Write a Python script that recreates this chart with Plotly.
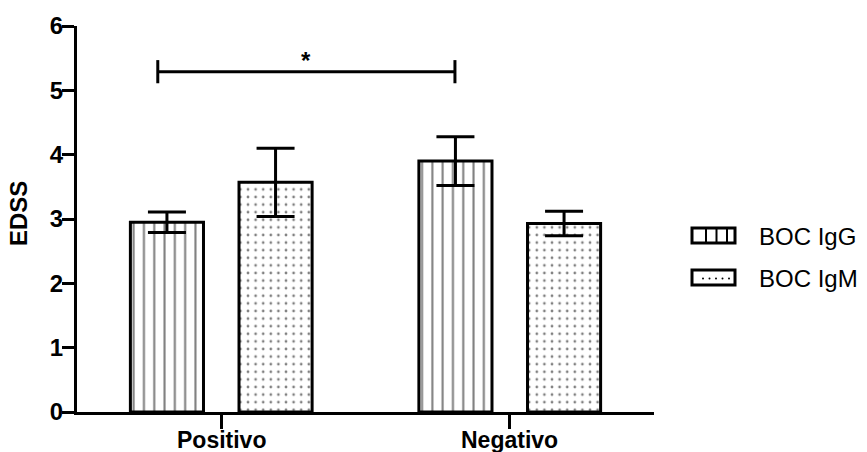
import plotly.graph_objects as go

# Data: EDSS mean and SEM per BOC status
categories = ["Positivo", "Negativo"]
series_names = ["BOC IgG", "BOC IgM"]
igg_mean = [2.95, 3.90]
igg_sem = [0.16, 0.38]
igm_mean = [3.57, 2.93]
igm_sem = [0.53, 0.19]
y_ticks = [0, 1, 2, 3, 4, 5, 6]
sig_label = "*"
sig_level = 5.29
sig_span = [-0.22, 0.81]

W, H = 867, 452
ML, MR, MT, MB = 77, 213, 26, 40
PW, PH = W - ML - MR, H - MT - MB

FONT = "Liberation Sans, Arial, sans-serif"


def px_x(px):
    return (px - ML) / PW


def px_y(py):
    return (H - MB - py) / PH


fig = go.Figure()

fig.add_trace(go.Bar(
    x=categories, y=igg_mean, name=series_names[0],
    error_y=dict(type="data", array=igg_sem, color="black", thickness=3, width=19),
    marker=dict(color="white", line=dict(color="black", width=3),
                pattern=dict(shape="|", size=10.3, solidity=0.2,
                             fgcolor="black", bgcolor="white", fillmode="overlay")),
    showlegend=False,
))
fig.add_trace(go.Bar(
    x=categories, y=igm_mean, name=series_names[1],
    error_y=dict(type="data", array=igm_sem, color="black", thickness=3, width=19),
    marker=dict(color="white", line=dict(color="black", width=3),
                pattern=dict(shape=".", size=7.6, solidity=0.1,
                             fgcolor="black", bgcolor="white", fillmode="overlay")),
    showlegend=False,
))

shapes = []
annotations = []

# Significance bracket between groups
cap = 0.18
shapes.append(dict(type="line", xref="x", yref="y", x0=sig_span[0], x1=sig_span[1],
                   y0=sig_level, y1=sig_level, line=dict(color="black", width=3)))
for xe in sig_span:
    shapes.append(dict(type="line", xref="x", yref="y", x0=xe, x1=xe,
                       y0=sig_level - cap, y1=sig_level + cap,
                       line=dict(color="black", width=3)))
annotations.append(dict(x=(sig_span[0] + sig_span[1]) / 2, y=sig_level, xref="x", yref="y",
                        text="<b>" + sig_label + "</b>", showarrow=False,
                        xanchor="center", yanchor="bottom", yshift=-4,
                        font=dict(family=FONT, size=24, color="black")))

# Y axis title
annotations.append(dict(x=px_x(19), y=px_y(214), xref="paper", yref="paper",
                        text="<b>EDSS</b>", textangle=-90, showarrow=False,
                        xanchor="center", yanchor="middle",
                        font=dict(family=FONT, size=24, color="black")))

# Category labels under the x axis
for i, cat in enumerate(categories):
    annotations.append(dict(x=i, y=px_y(440), xref="x", yref="paper",
                            text="<b>" + cat + "</b>", showarrow=False,
                            xanchor="center", yanchor="middle",
                            font=dict(family=FONT, size=23, color="black")))

# Hand-built legend with wide pattern swatches
sx0, sx1 = 692, 735
rows = [(228, 243), (270, 285)]
for (top, bot) in rows:
    shapes.append(dict(type="rect", xref="paper", yref="paper",
                       x0=px_x(sx0), x1=px_x(sx1), y0=px_y(bot), y1=px_y(top),
                       line=dict(color="black", width=3), fillcolor="white"))
for xv in [706, 716.5, 727]:
    shapes.append(dict(type="line", xref="paper", yref="paper",
                       x0=px_x(xv), x1=px_x(xv), y0=px_y(rows[0][1]), y1=px_y(rows[0][0]),
                       line=dict(color="black", width=2)))
for xd in [703, 709.5, 716, 722.5, 729]:
    yd = (rows[1][0] + rows[1][1]) / 2 + 1
    shapes.append(dict(type="circle", xref="paper", yref="paper",
                       x0=px_x(xd - 1), x1=px_x(xd + 1),
                       y0=px_y(yd + 1), y1=px_y(yd - 1),
                       line=dict(width=0), fillcolor="black"))
for name, (top, bot) in zip(series_names, rows):
    annotations.append(dict(x=px_x(757), y=px_y((top + bot) / 2 + 1), xref="paper", yref="paper",
                            text=name, showarrow=False, xanchor="left", yanchor="middle",
                            font=dict(family=FONT, size=24, color="black")))

fig.update_layout(
    width=W, height=H,
    margin=dict(l=ML, r=MR, t=MT, b=MB, pad=0, autoexpand=False),
    paper_bgcolor="white", plot_bgcolor="white",
    barmode="group", bargap=0.247, bargroupgap=0.327,
    shapes=shapes, annotations=annotations,
    showlegend=False,
    xaxis=dict(range=[-0.5, 1.5], showline=True, linecolor="black", linewidth=3,
               ticks="outside", ticklen=14, tickwidth=3, tickcolor="black",
               showgrid=False, zeroline=False, automargin=False, showticklabels=False),
    yaxis=dict(range=[0, 6], tickvals=y_ticks, showline=True, linecolor="black", linewidth=3,
               ticks="outside", ticklen=12, tickwidth=3, tickcolor="black",
               showgrid=False, zeroline=False, automargin=False, ticklabelstandoff=-6,
               tickfont=dict(family=FONT, size=24, color="black", weight="bold")),
)

fig.write_html("out.html")
